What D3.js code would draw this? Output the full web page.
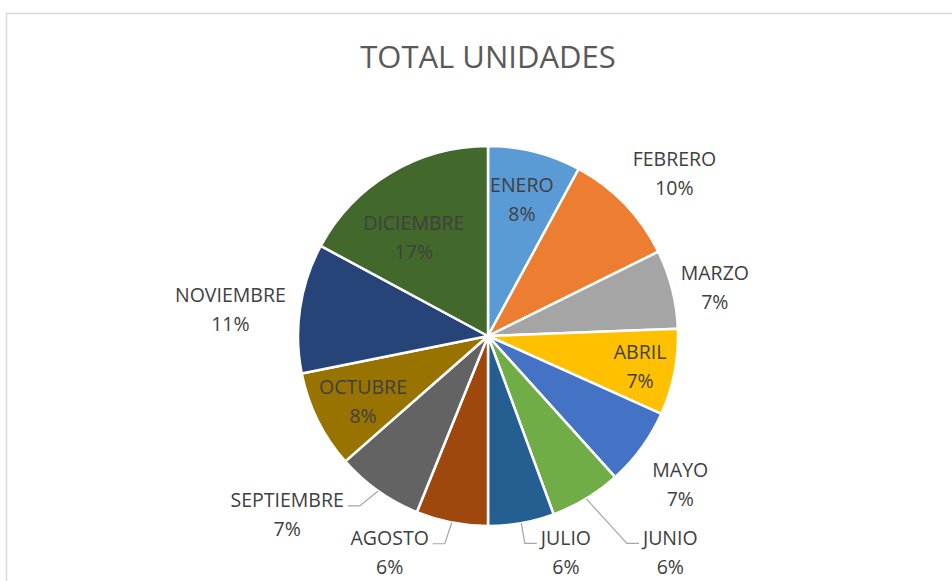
<!DOCTYPE html>
<html>
<head>
<meta charset="utf-8">
<script src="https://cdn.jsdelivr.net/npm/d3@7"></script>
<style>
  body { margin: 0; background: #fff; }
  svg { display: block; font-family: "Open Sans", sans-serif; }
</style>
</head>
<body>
<div class="chart"></div>
<script>
// months and units
var meses = ["ENERO", "FEBRERO", "MARZO", "ABRIL", "MAYO", "JUNIO",
             "JULIO", "AGOSTO", "SEPTIEMBRE", "OCTUBRE", "NOVIEMBRE", "DICIEMBRE"];
var unidades = [790, 975, 670, 730, 660, 605, 560, 610, 740, 830, 1100, 1710];
var colores = ["#5b9bd5", "#ed7d31", "#a5a5a5", "#ffc000", "#4472c4", "#70ad47",
               "#255e91", "#9e480e", "#636363", "#997300", "#264478", "#43682b"];

var width = 952,
    height = 581;
var cx = 488,
    cy = 336,
    radius = 190;

// label placement (angle in degrees, distance from centre), leader line yes/no
var labelPos = [
    [13.9, 141, 0], [49, 247, 0], [77.9, 232, 0], [101.2, 155, 0],
    [127.7, 243, 0], [139.9, 283, 1], [160.2, 230, 1], [204.4, 238, 1],
    [228.3, 269, 1], [242.4, 141, 0], [275.9, 259, 0], [322.9, 123, 0]
];

var svg = d3.select(".chart")
    .append("svg")
    .attr("width", width)
    .attr("height", height);

svg.append("rect")
    .attr("x", 6.5)
    .attr("y", 13.5)
    .attr("width", 1000)
    .attr("height", 1000)
    .style("fill", "#fff")
    .style("stroke", "#d9d9d9")
    .style("stroke-width", 1.5);

svg.append("text")
    .attr("x", cx)
    .attr("y", 68)
    .style("text-anchor", "middle")
    .style("font-size", "31px")
    .style("fill", "#595959")
    .text("TOTAL UNIDADES");

var data = meses.map(function(m, i) {
    return { mes: m, valor: unidades[i], color: colores[i], lp: labelPos[i] };
});
var total = d3.sum(unidades);

var pie = d3.pie()
    .sort(null)
    .value(function(d) { return d.valor; });

var arc = d3.arc()
    .innerRadius(0)
    .outerRadius(radius);

var g = svg.append("g")
    .attr("transform", "translate(" + cx + "," + cy + ")");

var arcs = pie(data);

g.selectAll("path.slice")
    .data(arcs)
    .enter().append("path")
    .attr("class", "slice")
    .attr("d", arc)
    .style("fill", function(d) { return d.data.color; })
    .style("stroke", "#fff")
    .style("stroke-width", 2.5)
    .style("stroke-linejoin", "round");

var rad = Math.PI / 180;

var labels = g.selectAll("g.label")
    .data(arcs)
    .enter().append("g")
    .attr("class", "label")
    .attr("transform", function(d) {
        var p = d3.pointRadial(d.data.lp[0] * rad, d.data.lp[1]);
        return "translate(" + p[0] + "," + p[1] + ")";
    });

var txt = labels.append("text")
    .style("text-anchor", "middle")
    .style("font-size", "19.5px")
    .style("fill", "#404040");

txt.append("tspan")
    .attr("x", 0)
    .attr("y", -7.5)
    .text(function(d) { return d.data.mes; });

txt.append("tspan")
    .attr("x", 0)
    .attr("y", 21.5)
    .text(function(d) { return Math.round(d.data.valor / total * 100) + "%"; });

// leader lines for the labels pushed away from their slice
labels.each(function(d) {
    if (!d.data.lp[2]) return;
    var w = d3.select(this).select("tspan").node().getComputedTextLength();
    var lp = d3.pointRadial(d.data.lp[0] * rad, d.data.lp[1]);
    var mid = (d.startAngle + d.endAngle) / 2;
    var s = d3.pointRadial(mid, radius);
    var side = s[0] < lp[0] ? -1 : 1;
    var ex = lp[0] + side * (w / 2 + 4),
        ey = lp[1] - 9;
    var elx = ex + side * 12;
    g.append("polyline")
        .attr("points", [[s[0], s[1]], [elx, ey], [ex, ey]].join(" "))
        .style("fill", "none")
        .style("stroke", "#a6a6a6")
        .style("stroke-width", 1.2);
});
</script>
</body>
</html>
